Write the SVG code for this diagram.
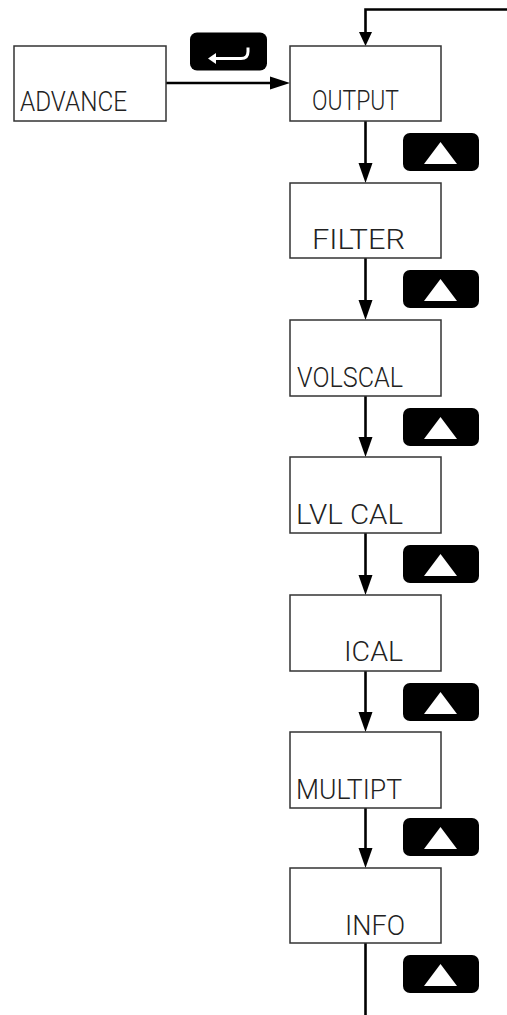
<svg xmlns="http://www.w3.org/2000/svg" width="507" height="1015" viewBox="0 0 507 1015">
<style>
.box{fill:#fff;stroke:#333;stroke-width:1.5}
.lbl{font-family:"Roboto","Liberation Sans",sans-serif;font-weight:300;font-size:28px;fill:#222}
.ln{fill:none;stroke:#000;stroke-width:2.6}
.ah{fill:#000}
.btn{fill:#000}
.tri{fill:#fff}
</style>
<defs>
<g id="upbtn"><rect class="btn" x="403" y="0" width="76" height="38" rx="7"/><polygon class="tri" points="440.5,9 457,31 424,31"/></g>
</defs>
<rect width="507" height="1015" fill="#fff"/>
<g id="connectors">
<path class="ln" d="M507,9.5 H365.5 V34"/>
<polygon class="ah" points="359,32 372,32 365.5,46"/>
<path class="ln" d="M166,83 H272"/>
<polygon class="ah" points="270,76.5 270,89.5 290,83"/>
<path class="ln" d="M365.5,121 V165"/>
<polygon class="ah" points="358.5,163 372.5,163 365.5,183"/>
<path class="ln" d="M365.5,258 V302"/>
<polygon class="ah" points="358.5,300 372.5,300 365.5,320"/>
<path class="ln" d="M365.5,396 V439"/>
<polygon class="ah" points="358.5,437 372.5,437 365.5,457"/>
<path class="ln" d="M365.5,533 V577"/>
<polygon class="ah" points="358.5,575 372.5,575 365.5,595"/>
<path class="ln" d="M365.5,671 V714"/>
<polygon class="ah" points="358.5,712 372.5,712 365.5,732"/>
<path class="ln" d="M365.5,808 V850"/>
<polygon class="ah" points="358.5,848 372.5,848 365.5,868"/>
<path class="ln" d="M365.5,943 V1015"/>
</g>
<g id="enter-key">
<rect class="btn" x="190" y="32.5" width="77" height="38" rx="7"/>
<path d="M214,58.5 H241 Q248,58.5 248,51.5 V47.5" fill="none" stroke="#fff" stroke-width="3"/>
<polygon class="tri" points="208,58.5 216,53 216,64"/>
</g>
<g id="up-keys">
<use href="#upbtn" y="133"/>
<use href="#upbtn" y="270"/>
<use href="#upbtn" y="408"/>
<use href="#upbtn" y="545"/>
<use href="#upbtn" y="683"/>
<use href="#upbtn" y="818"/>
<use href="#upbtn" y="955"/>
</g>
<g id="node-advance"><rect class="box" x="14" y="46" width="152" height="75"/><text class="lbl" x="20" y="111" textLength="107" lengthAdjust="spacingAndGlyphs">ADVANCE</text></g>
<g id="node-output"><rect class="box" x="290" y="46" width="151" height="75"/><text class="lbl" x="312" y="110" textLength="87" lengthAdjust="spacingAndGlyphs">OUTPUT</text></g>
<g id="node-filter"><rect class="box" x="290" y="183" width="151" height="75"/><text class="lbl" x="312" y="249" textLength="93" lengthAdjust="spacingAndGlyphs">FILTER</text></g>
<g id="node-volscal"><rect class="box" x="290" y="320" width="151" height="76"/><text class="lbl" x="297" y="387" textLength="106" lengthAdjust="spacingAndGlyphs">VOLSCAL</text></g>
<g id="node-lvlcal"><rect class="box" x="290" y="457" width="151" height="76"/><text class="lbl" x="296" y="524" textLength="107" lengthAdjust="spacingAndGlyphs">LVL CAL</text></g>
<g id="node-ical"><rect class="box" x="290" y="595" width="151" height="76"/><text class="lbl" x="344" y="661" textLength="59" lengthAdjust="spacingAndGlyphs">ICAL</text></g>
<g id="node-multipt"><rect class="box" x="290" y="732" width="151" height="76"/><text class="lbl" x="296" y="799" textLength="106" lengthAdjust="spacingAndGlyphs">MULTIPT</text></g>
<g id="node-info"><rect class="box" x="290" y="868" width="151" height="75"/><text class="lbl" x="345" y="935" textLength="60" lengthAdjust="spacingAndGlyphs">INFO</text></g>
</svg>
